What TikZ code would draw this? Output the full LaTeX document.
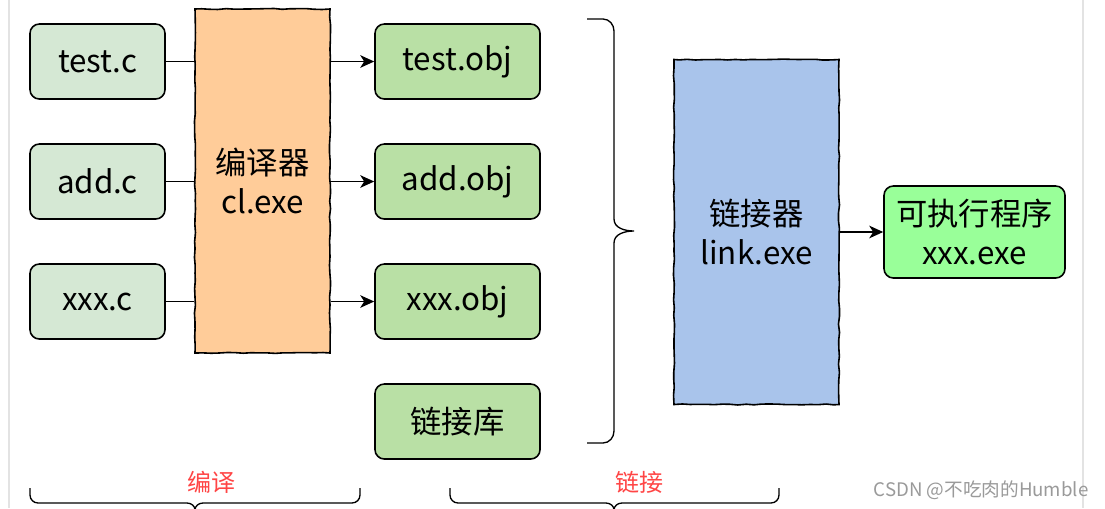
\documentclass[tikz,border=0pt]{standalone}
\usepackage{fontspec}
\setmainfont{Noto Sans CJK SC}
\usetikzlibrary{arrows.meta,decorations.pathmorphing}
\definecolor{SrcGreen}{HTML}{D5E8D4}
\definecolor{ObjGreen}{HTML}{B9E0A5}
\definecolor{Peach}{HTML}{FFCC99}
\definecolor{SkyBlue}{HTML}{A9C4EB}
\definecolor{ExeGreen}{HTML}{99FF99}
\definecolor{Red}{HTML}{FF4545}
\definecolor{Muted}{HTML}{9A9A9A}
\definecolor{Edge}{HTML}{E3E3E3}

\begin{document}
\begin{tikzpicture}[x=.75pt,y=-.75pt,
    box/.style={draw,line width=1.2pt,font=\fontsize{23.5}{29}\selectfont,align=center},
    srcbox/.style={box,fill=SrcGreen,rounded corners=7pt,minimum width=101.25pt,minimum height=56.25pt},
    objbox/.style={box,fill=ObjGreen,rounded corners=7pt,minimum width=123.75pt,minimum height=56.25pt},
    tool/.style={box,minimum height=258pt,decorate,decoration={random steps,segment length=6pt,amplitude=.4pt}},
    wire/.style={line width=1pt},
    tip/.style={-{Stealth[length=10.5pt,width=9.5pt,inset=3pt]}}]
  \pgfmathsetseed{7}
  \useasboundingbox(0,0)rectangle(1105,508);
  \fill[white](0,0)rectangle(1105,508);
  \draw[Edge,line width=1.5pt](9,0)--(9,508)(1083,0)--(1083,508);

  \node[srcbox](testc)at(97.5,61.5){test.c};
  \node[srcbox](addc)at(97.5,181.5){add.c};
  \node[srcbox](xxxc)at(97.5,301.5){xxx.c};
  \node[tool,fill=Peach,minimum width=101.25pt](cl)at(262.5,181){编译器\\cl.exe};
  \node[objbox](testobj)at(457.5,61.5){test.obj};
  \node[objbox](addobj)at(457.5,181.5){add.obj};
  \node[objbox](xxxobj)at(457.5,301.5){xxx.obj};
  \node[objbox](lib)at(457.5,421.5){链接库};
  \node[tool,fill=SkyBlue,minimum width=123.75pt,minimum height=258.75pt](ld)at(756.5,232){链接器\\link.exe};
  \node[box,fill=ExeGreen,rounded corners=7pt,minimum width=135.75pt,minimum height=69pt](exe)at(974.5,232){可执行程序\\xxx.exe};

  \foreach \s/\o in {testc/testobj,addc/addobj,xxxc/xxxobj}{
    \draw[wire](\s)--(\s -| cl.west);
    \draw[wire,tip](\o -| cl.east)--(\o);
  }
  \draw[wire,tip](ld)--(exe);

  \draw[wire](587,19)--(603,19)to[out=0,in=90](614,31)--(614,219)to[out=-90,in=180](634,231)
    to[out=180,in=90](614,243)--(614,431)to[out=-90,in=0](603,443)--(587,443);
  \draw[wire](30,488)--(30,495)to[out=-90,in=180](38,503)--(187,503)to[out=0,in=90](195,510)
    to[out=90,in=180](203,503)--(352,503)to[out=0,in=-90](360,495)--(360,488);
  \draw[wire](450,488)--(450,495)to[out=-90,in=180](458,503)--(606,503)to[out=0,in=90](614,510)
    to[out=90,in=180](622,503)--(771,503)to[out=0,in=-90](779,495)--(779,488);

  \node[text=Red,font=\fontsize{18}{18}\selectfont](bianyi)at(211,482){编译};
  \node[text=Red,font=\fontsize{18}{18}\selectfont](lianjie)at(639,482){链接};
  \node[text=Muted,font=\fontsize{14}{14}\selectfont](mark)at(981,490){CSDN @不吃肉的Humble};
\end{tikzpicture}
\end{document}
